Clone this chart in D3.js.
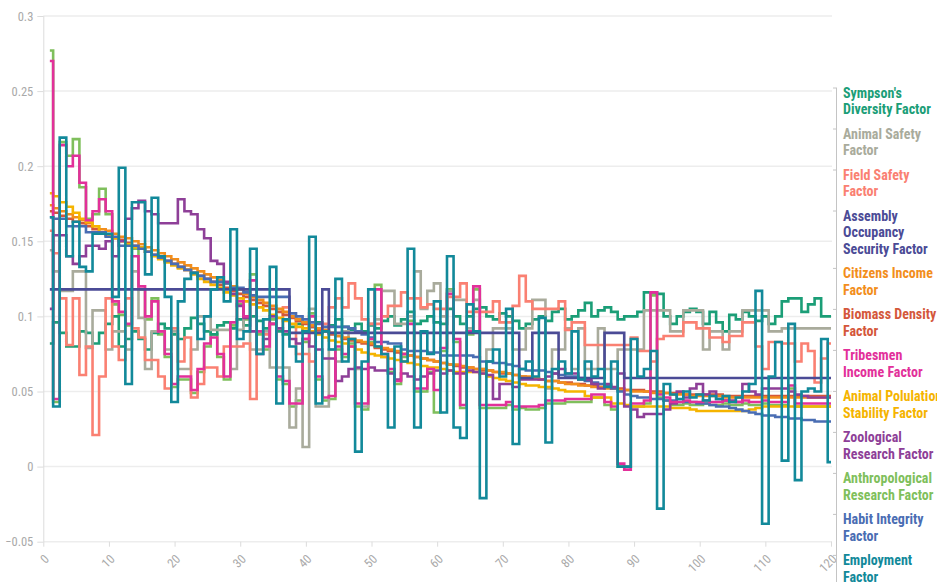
<!DOCTYPE html>
<html lang="en">
<head>
<meta charset="utf-8">
<style>
body { margin: 0; background: #fff; }
svg text { font-family: "Liberation Sans Narrow", "Roboto Condensed", "Open Sans", sans-serif; }
.grid line { stroke: #ededed; stroke-width: 1.5; }
.axis text { fill: #a9a9a9; font-size: 12.5px; }
.axis line, .axis path { stroke: #dcdcdc; }
</style>
</head>
<body>
<svg width="937" height="585"></svg>
<script src="https://d3js.org/d3.v7.min.js"></script>
<script>
var yTicks = [-0.05, 0, 0.05, 0.1, 0.15, 0.2, 0.25, 0.3];
var xTicks = [0, 10, 20, 30, 40, 50, 60, 70, 80, 90, 100, 110, 120];

var seriesNames = [
  "Sympson's Diversity Factor", "Animal Safety Factor", "Field Safety Factor",
  "Assembly Occupancy Security Factor", "Citizens Income Factor", "Biomass Density Factor",
  "Tribesmen Income Factor", "Animal Polulation Stability Factor", "Zoological Research Factor",
  "Anthropological Research Factor", "Habit Integrity Factor", "Employment Factor"
];
var labelLines = [
  ["Sympson's", "Diversity Factor"], ["Animal Safety", "Factor"], ["Field Safety", "Factor"],
  ["Assembly", "Occupancy", "Security Factor"], ["Citizens Income", "Factor"], ["Biomass Density", "Factor"],
  ["Tribesmen", "Income Factor"], ["Animal Polulation", "Stability Factor"], ["Zoological", "Research Factor"],
  ["Anthropological", "Research Factor"], ["Habit Integrity", "Factor"], ["Employment", "Factor"]
];
var colors = ["#1b9e77", "#a9ab9c", "#fa8072", "#4b4b96", "#f28e1c", "#d4573b",
              "#e2309a", "#f5b400", "#8e3f98", "#7fbf5c", "#4a6db3", "#12899a"];
// which series is painted first (bottom) .. last (top)
var drawOrder = [9, 0, 1, 2, 5, 4, 7, 10, 8, 6, 3, 11];

// values for step 1..120
var sympsons = [
 0.082,0.096,0.089,0.080,0.080,0.090,0.089,0.082,0.089,0.095,
 0.100,0.080,0.085,0.090,0.085,0.078,0.089,0.095,0.092,0.088,
 0.085,0.092,0.099,0.095,0.090,0.088,0.094,0.096,0.092,0.098,
 0.094,0.100,0.097,0.092,0.095,0.090,0.088,0.093,0.095,0.090,
 0.093,0.096,0.090,0.094,0.098,0.093,0.091,0.095,0.090,0.094,
 0.092,0.097,0.100,0.094,0.098,0.103,0.095,0.097,0.100,0.096,
 0.095,0.105,0.100,0.095,0.100,0.105,0.106,0.100,0.098,0.102,
 0.100,0.097,0.092,0.095,0.098,0.100,0.097,0.103,0.105,0.098,
 0.100,0.104,0.109,0.100,0.104,0.106,0.103,0.098,0.100,0.100,
 0.103,0.116,0.116,0.115,0.100,0.095,0.100,0.103,0.105,0.103,
 0.095,0.103,0.096,0.090,0.101,0.098,0.103,0.100,0.097,0.100,
 0.095,0.100,0.110,0.112,0.112,0.103,0.108,0.112,0.100,0.100];
var animalSafety = [
 0.144,0.130,0.117,0.117,0.130,0.130,0.079,0.104,0.104,0.078,
 0.090,0.090,0.078,0.130,0.099,0.065,0.090,0.090,0.078,0.090,
 0.065,0.065,0.078,0.100,0.100,0.091,0.091,0.091,0.065,0.091,
 0.118,0.078,0.078,0.090,0.066,0.066,0.066,0.026,0.052,0.013,
 0.105,0.040,0.040,0.078,0.070,0.090,0.085,0.065,0.040,0.095,
 0.098,0.117,0.117,0.095,0.095,0.100,0.130,0.105,0.117,0.122,
 0.100,0.117,0.111,0.111,0.092,0.111,0.065,0.078,0.092,0.092,
 0.092,0.078,0.078,0.092,0.111,0.111,0.052,0.078,0.078,0.092,
 0.065,0.092,0.065,0.065,0.092,0.065,0.065,0.078,0.078,0.078,
 0.078,0.104,0.104,0.104,0.104,0.090,0.090,0.104,0.104,0.104,
 0.078,0.090,0.090,0.078,0.090,0.090,0.104,0.104,0.104,0.104,
 0.090,0.090,0.092,0.092,0.092,0.092,0.092,0.092,0.092,0.092];
var fieldSafety = [
 0.157,0.142,0.112,0.081,0.112,0.061,0.080,0.021,0.060,0.112,
 0.080,0.071,0.112,0.092,0.086,0.071,0.071,0.060,0.052,0.092,
 0.070,0.086,0.046,0.055,0.066,0.066,0.060,0.080,0.080,0.080,
 0.082,0.045,0.090,0.088,0.095,0.092,0.106,0.100,0.075,0.075,
 0.070,0.090,0.095,0.106,0.112,0.106,0.122,0.112,0.098,0.095,
 0.095,0.100,0.107,0.107,0.116,0.112,0.112,0.106,0.108,0.105,
 0.105,0.113,0.113,0.122,0.103,0.103,0.103,0.103,0.110,0.096,
 0.096,0.107,0.127,0.110,0.105,0.105,0.105,0.105,0.110,0.091,
 0.096,0.096,0.081,0.081,0.081,0.081,0.081,0.081,0.081,0.086,
 0.077,0.077,0.070,0.085,0.087,0.087,0.087,0.096,0.096,0.092,
 0.092,0.086,0.086,0.083,0.087,0.087,0.096,0.096,0.080,0.065,
 0.083,0.083,0.082,0.082,0.070,0.082,0.077,0.056,0.072,0.082];
var assembly = [
 0.118,0.118,0.118,0.118,0.118,0.118,0.118,0.118,0.118,0.118,
 0.118,0.118,0.118,0.118,0.118,0.118,0.118,0.118,0.118,0.118,
 0.118,0.118,0.118,0.118,0.118,0.118,0.118,0.118,0.118,0.118,
 0.118,0.118,0.118,0.118,0.118,0.118,0.118,0.089,0.089,0.089,
 0.089,0.089,0.118,0.089,0.089,0.089,0.089,0.089,0.089,0.089,
 0.089,0.089,0.089,0.089,0.089,0.089,0.089,0.089,0.089,0.089,
 0.089,0.089,0.089,0.089,0.089,0.089,0.089,0.089,0.089,0.089,
 0.089,0.089,0.059,0.059,0.089,0.089,0.089,0.089,0.059,0.059,
 0.059,0.059,0.059,0.059,0.059,0.089,0.089,0.089,0.059,0.059,
 0.059,0.059,0.059,0.059,0.059,0.059,0.059,0.059,0.059,0.059,
 0.059,0.059,0.059,0.059,0.059,0.059,0.059,0.059,0.059,0.059,
 0.059,0.059,0.059,0.059,0.059,0.059,0.059,0.059,0.059,0.059];
var citizens = [
 0.174,0.172,0.170,0.168,0.166,0.164,0.162,0.160,0.158,0.157,
 0.155,0.153,0.152,0.150,0.148,0.146,0.144,0.142,0.140,0.138,
 0.136,0.134,0.132,0.130,0.128,0.126,0.124,0.122,0.120,0.118,
 0.115,0.113,0.111,0.109,0.107,0.105,0.103,0.100,0.098,0.096,
 0.094,0.092,0.091,0.089,0.087,0.086,0.085,0.084,0.083,0.082,
 0.080,0.079,0.078,0.077,0.075,0.074,0.073,0.072,0.071,0.070,
 0.069,0.068,0.068,0.067,0.066,0.065,0.065,0.064,0.063,0.063,
 0.062,0.061,0.060,0.060,0.059,0.058,0.057,0.057,0.056,0.055,
 0.055,0.054,0.054,0.053,0.053,0.052,0.052,0.051,0.051,0.050,
 0.050,0.050,0.049,0.049,0.049,0.048,0.048,0.048,0.047,0.047,
 0.047,0.047,0.047,0.046,0.046,0.046,0.046,0.046,0.046,0.046,
 0.046,0.046,0.046,0.046,0.046,0.046,0.046,0.046,0.046,0.046];
var biomass = [
 0.170,0.169,0.167,0.165,0.163,0.162,0.160,0.158,0.156,0.154,
 0.152,0.151,0.149,0.147,0.145,0.143,0.141,0.139,0.137,0.135,
 0.133,0.131,0.129,0.127,0.125,0.123,0.121,0.119,0.117,0.115,
 0.113,0.111,0.109,0.107,0.105,0.103,0.101,0.099,0.097,0.095,
 0.093,0.091,0.090,0.088,0.087,0.085,0.084,0.083,0.082,0.081,
 0.079,0.078,0.077,0.076,0.075,0.074,0.073,0.072,0.071,0.070,
 0.069,0.068,0.067,0.066,0.066,0.065,0.064,0.064,0.063,0.062,
 0.062,0.061,0.060,0.059,0.059,0.058,0.057,0.057,0.056,0.056,
 0.055,0.055,0.054,0.054,0.053,0.053,0.052,0.052,0.051,0.051,
 0.051,0.050,0.050,0.050,0.049,0.049,0.049,0.048,0.048,0.048,
 0.048,0.048,0.048,0.047,0.047,0.047,0.047,0.047,0.047,0.047,
 0.047,0.047,0.047,0.047,0.047,0.047,0.047,0.047,0.047,0.047];
var tribesmen = [
 0.270,0.045,0.214,0.200,0.207,0.189,0.164,0.170,0.178,0.170,
 0.110,0.103,0.095,0.140,0.120,0.100,0.110,0.090,0.075,0.055,
 0.060,0.060,0.051,0.065,0.082,0.086,0.075,0.060,0.096,0.110,
 0.100,0.124,0.090,0.080,0.095,0.060,0.057,0.042,0.042,0.085,
 0.100,0.060,0.046,0.047,0.080,0.075,0.080,0.042,0.042,0.085,
 0.118,0.075,0.065,0.057,0.075,0.095,0.052,0.052,0.065,0.051,
 0.079,0.115,0.085,0.041,0.090,0.120,0.041,0.041,0.041,0.041,
 0.043,0.040,0.040,0.040,0.040,0.041,0.044,0.044,0.044,0.045,
 0.045,0.045,0.045,0.048,0.048,0.043,0.040,0.002,-0.002,0.042,
 0.042,0.044,0.116,0.048,0.046,0.043,0.043,0.044,0.043,0.043,
 0.044,0.043,0.043,0.044,0.043,0.043,0.044,0.043,0.043,0.044,
 0.043,0.043,0.043,0.054,0.042,0.042,0.042,0.042,0.042,0.042];
var animalPop = [
 0.182,0.180,0.176,0.173,0.169,0.165,0.163,0.160,0.156,0.154,
 0.152,0.150,0.148,0.146,0.146,0.143,0.140,0.138,0.136,0.134,
 0.132,0.131,0.128,0.125,0.123,0.121,0.119,0.116,0.114,0.112,
 0.110,0.108,0.106,0.104,0.101,0.099,0.097,0.095,0.093,0.092,
 0.090,0.088,0.086,0.084,0.083,0.082,0.080,0.078,0.076,0.075,
 0.074,0.073,0.072,0.071,0.070,0.069,0.068,0.067,0.066,0.066,
 0.065,0.064,0.063,0.063,0.063,0.063,0.062,0.060,0.059,0.058,
 0.057,0.056,0.055,0.054,0.054,0.053,0.053,0.052,0.051,0.050,
 0.050,0.050,0.047,0.046,0.046,0.046,0.042,0.042,0.041,0.040,
 0.040,0.040,0.040,0.040,0.040,0.039,0.039,0.039,0.038,0.037,
 0.037,0.037,0.037,0.037,0.037,0.037,0.037,0.038,0.039,0.040,
 0.040,0.040,0.040,0.040,0.040,0.040,0.040,0.040,0.040,0.040];
var zoological = [
 0.105,0.154,0.154,0.140,0.135,0.140,0.147,0.147,0.145,0.150,
 0.140,0.150,0.165,0.172,0.177,0.170,0.168,0.162,0.162,0.162,
 0.178,0.170,0.168,0.158,0.152,0.137,0.135,0.123,0.115,0.107,
 0.099,0.090,0.075,0.085,0.100,0.092,0.090,0.085,0.082,0.085,
 0.080,0.078,0.072,0.072,0.057,0.060,0.065,0.066,0.065,0.066,
 0.064,0.064,0.062,0.058,0.062,0.060,0.058,0.060,0.062,0.064,
 0.062,0.064,0.062,0.062,0.064,0.063,0.062,0.061,0.045,0.055,
 0.055,0.053,0.058,0.058,0.058,0.058,0.060,0.062,0.065,0.062,
 0.062,0.058,0.058,0.055,0.052,0.055,0.053,0.062,0.040,0.038,
 0.033,0.035,0.035,0.035,0.038,0.042,0.050,0.046,0.052,0.055,
 0.048,0.050,0.045,0.044,0.044,0.043,0.055,0.050,0.048,0.052,
 0.052,0.052,0.052,0.050,0.048,0.047,0.046,0.046,0.046,0.046];
var anthropological = [
 0.277,0.043,0.216,0.207,0.218,0.186,0.165,0.168,0.185,0.168,
 0.108,0.101,0.094,0.145,0.118,0.098,0.112,0.088,0.073,0.053,
 0.058,0.058,0.049,0.063,0.080,0.088,0.073,0.058,0.094,0.108,
 0.098,0.128,0.088,0.078,0.098,0.058,0.055,0.040,0.044,0.083,
 0.102,0.058,0.044,0.045,0.078,0.073,0.082,0.040,0.038,0.083,
 0.121,0.073,0.063,0.055,0.073,0.097,0.050,0.050,0.063,0.036,
 0.077,0.118,0.083,0.039,0.088,0.118,0.039,0.039,0.039,0.039,
 0.041,0.038,0.039,0.038,0.038,0.039,0.042,0.042,0.042,0.043,
 0.043,0.043,0.043,0.046,0.046,0.041,0.038,0.000,0.000,0.040,
 0.040,0.042,0.114,0.046,0.044,0.041,0.041,0.042,0.041,0.041,
 0.042,0.041,0.041,0.042,0.041,0.041,0.042,0.041,0.041,0.042,
 0.041,0.041,0.041,0.052,0.040,0.040,0.040,0.040,0.040,0.040];
var habitIntegrity = [
 0.166,0.165,0.165,0.160,0.160,0.160,0.156,0.156,0.156,0.153,
 0.153,0.147,0.147,0.147,0.145,0.143,0.141,0.139,0.137,0.135,
 0.133,0.131,0.129,0.127,0.125,0.123,0.123,0.122,0.119,0.119,
 0.116,0.114,0.113,0.113,0.113,0.113,0.113,0.102,0.100,0.098,
 0.096,0.095,0.093,0.093,0.093,0.093,0.092,0.090,0.088,0.086,
 0.083,0.083,0.082,0.082,0.078,0.077,0.077,0.077,0.076,0.076,
 0.074,0.074,0.074,0.074,0.074,0.073,0.070,0.070,0.069,0.069,
 0.068,0.067,0.065,0.064,0.064,0.064,0.063,0.062,0.061,0.060,
 0.060,0.059,0.057,0.056,0.055,0.054,0.052,0.050,0.048,0.047,
 0.046,0.046,0.045,0.045,0.044,0.044,0.043,0.043,0.043,0.042,
 0.042,0.041,0.040,0.040,0.039,0.038,0.037,0.036,0.035,0.034,
 0.034,0.033,0.033,0.032,0.032,0.031,0.031,0.030,0.030,0.030];
var employment = [
 0.166,0.040,0.219,0.140,0.163,0.133,0.130,0.155,0.155,0.155,
 0.113,0.199,0.055,0.176,0.176,0.128,0.179,0.140,0.113,0.043,
 0.110,0.125,0.129,0.085,0.100,0.118,0.126,0.110,0.158,0.085,
 0.090,0.145,0.075,0.098,0.133,0.042,0.098,0.080,0.070,0.090,
 0.153,0.042,0.090,0.078,0.125,0.070,0.085,0.010,0.070,0.118,
 0.080,0.075,0.026,0.080,0.070,0.145,0.026,0.090,0.075,0.110,
 0.036,0.140,0.026,0.019,0.108,0.090,-0.021,0.070,0.078,0.060,
 0.105,0.015,0.065,0.070,0.060,0.099,0.016,0.065,0.070,0.062,
 0.090,0.058,0.070,0.060,0.065,0.053,0.070,0.000,0.000,0.085,
 0.060,0.065,0.077,-0.028,0.055,0.048,0.045,0.050,0.046,0.048,
 0.044,0.047,0.045,0.047,0.043,0.046,0.050,0.055,0.117,-0.038,
 0.060,0.083,0.004,0.095,-0.009,0.050,0.052,0.050,0.085,0.003];

var seriesValues = [sympsons, animalSafety, fieldSafety, assembly, citizens, biomass,
  tribesmen, animalPop, zoological, anthropological, habitIntegrity, employment];

var svg = d3.select("svg");
var x = d3.scaleLinear().domain([0, 120]).range([43.3, 831]);
var y = d3.scaleLinear().domain([-0.05, 0.3]).range([541.7, 16]);

// grid
svg.append("g").attr("class", "grid")
  .selectAll("line").data(yTicks).enter().append("line")
    .attr("x1", x(0)).attr("x2", x(120) + 1)
    .attr("y1", function(d) { return y(d); })
    .attr("y2", function(d) { return y(d); });

var yAxis = svg.append("g").attr("class", "axis")
  .attr("transform", "translate(" + x(0) + ",0)")
  .call(d3.axisLeft(y).tickValues(yTicks).tickSize(6).tickPadding(4)
    .tickFormat(function(d) { return d3.format("")(+d.toFixed(2)); }));
yAxis.select(".domain").attr("d", "M0.5," + y(0.3) + "V" + y(-0.05));

var xAxis = svg.append("g").attr("class", "axis")
  .attr("transform", "translate(0," + y(-0.05) + ")")
  .call(d3.axisBottom(x).tickValues(xTicks).tickSize(5).tickFormat(d3.format("d")));
xAxis.select(".domain").remove();
xAxis.selectAll("text")
  .attr("x", 0).attr("y", 0)
  .attr("dy", "0.35em")
  .attr("text-anchor", "end")
  .attr("transform", "translate(3,15) rotate(-45)");

var line = d3.line()
  .x(function(d, i) { return x(i + 1); })
  .y(function(d) { return y(d); })
  .curve(d3.curveStep);

svg.append("g").selectAll("path")
  .data(drawOrder).enter().append("path")
    .attr("d", function(k) { return line(seriesValues[k]); })
    .attr("fill", "none")
    .attr("stroke", function(k) { return colors[k]; })
    .attr("stroke-width", 2.6)
    .attr("stroke-linejoin", "miter");

// end labels
var lineH = 16.4, groupGap = 8.2, top0 = 98;
var legend = svg.append("g");
var lineIdx = 0;
labelLines.forEach(function(lines, gi) {
  var first = top0 + lineIdx * lineH + gi * groupGap;
  legend.append("line")
    .attr("x1", 833).attr("x2", 837)
    .attr("y1", first - 10).attr("y2", first - 10)
    .attr("stroke", "#c4c4c4");
  lines.forEach(function(t, k) {
    legend.append("text")
      .attr("x", 843)
      .attr("y", first + k * lineH)
      .attr("fill", colors[gi])
      .attr("font-weight", "bold")
      .attr("font-size", "14px")
      .text(t);
  });
  lineIdx += lines.length;
});
legend.append("line")
  .attr("x1", 836.5).attr("x2", 836.5)
  .attr("y1", 88).attr("y2", 582)
  .attr("stroke", "#c4c4c4");
</script>
</body>
</html>
